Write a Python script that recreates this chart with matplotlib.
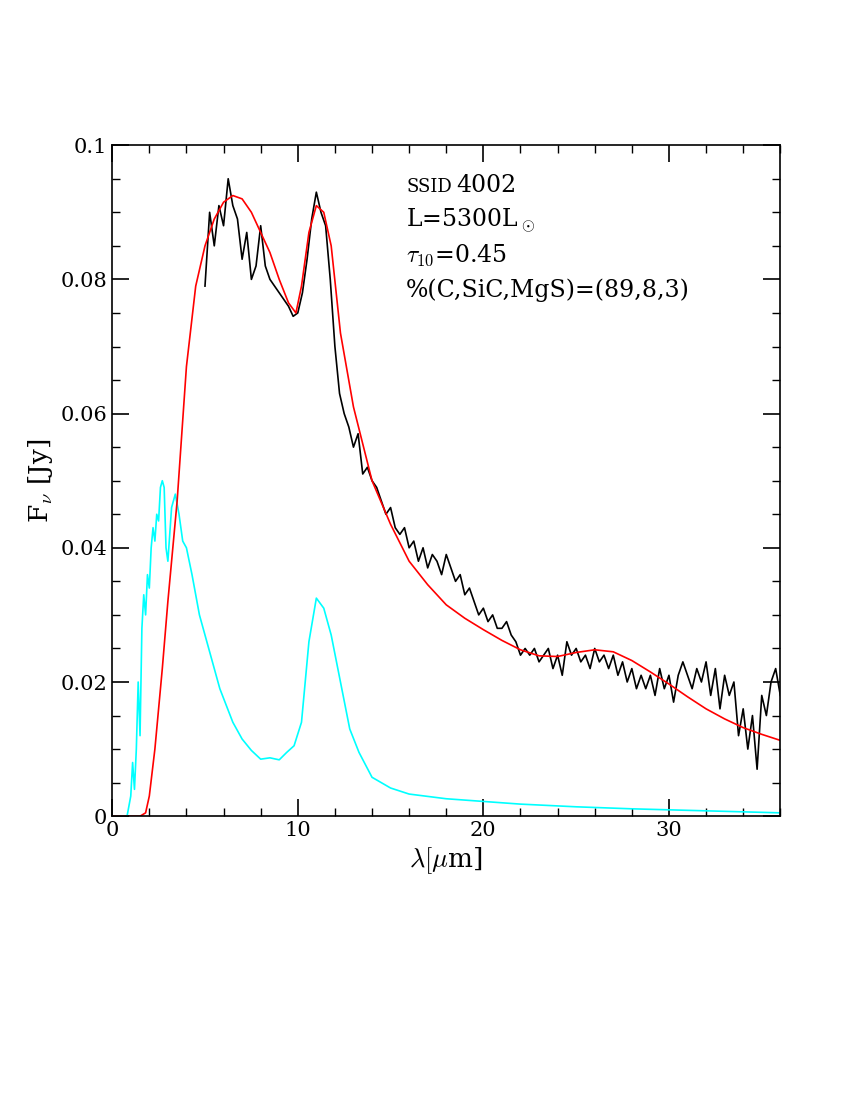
import numpy as np
import matplotlib.pyplot as plt
from matplotlib.ticker import MultipleLocator

plt.rcParams['font.family'] = 'DejaVu Serif'
plt.rcParams['mathtext.fontset'] = 'cm'

# model (red)
model_x = [0, 1.5, 1.8, 2.0, 2.3, 2.7, 3.0, 3.5, 4.0, 4.5, 5.0, 5.5, 6.0, 6.5, 7.0, 7.5, 8.0, 8.5,
           9.0, 9.5, 9.9, 10.2, 10.6, 11.0, 11.4, 11.8, 12.3, 13.0, 14.0, 15.0, 16.0, 17.0, 18.0,
           19.0, 20.0, 21.0, 22.0, 23.0, 24.0, 25.0, 26.0, 27.0, 28.0, 29.0, 30.0, 31.0, 32.0,
           33.0, 34.0, 35.0, 36.0]
model_y = [0, 0, 0.0005, 0.003, 0.010, 0.022, 0.032, 0.047, 0.067, 0.079, 0.085, 0.089, 0.0915,
           0.0925, 0.092, 0.090, 0.087, 0.084, 0.080, 0.0765, 0.075, 0.079, 0.087, 0.091, 0.090,
           0.085, 0.072, 0.061, 0.050, 0.0435, 0.038, 0.0345, 0.0315, 0.0295, 0.0278, 0.0262,
           0.0248, 0.0239, 0.0238, 0.0244, 0.0248, 0.0245, 0.0232, 0.0215, 0.0197, 0.0178, 0.016,
           0.0145, 0.0132, 0.0122, 0.0113]

# dust component (cyan)
dust_x = [0, 0.8, 1.0, 1.1, 1.2, 1.3, 1.4, 1.5, 1.6, 1.7, 1.8, 1.9, 2.0, 2.1, 2.2, 2.3, 2.4, 2.5,
          2.6, 2.7, 2.8, 2.9, 3.0, 3.2, 3.4, 3.6, 3.8, 4.0, 4.3, 4.7, 5.2, 5.8, 6.5, 7.0, 7.5,
          8.0, 8.5, 9.0, 9.4, 9.8, 10.2, 10.6, 11.0, 11.4, 11.8, 12.3, 12.8, 13.3, 14.0, 15.0,
          16.0, 18.0, 20.0, 22.0, 25.0, 28.0, 32.0, 36.0]
dust_y = [0, 0, 0.003, 0.008, 0.004, 0.010, 0.020, 0.012, 0.028, 0.033, 0.030, 0.036, 0.034,
          0.040, 0.043, 0.041, 0.045, 0.044, 0.049, 0.050, 0.049, 0.040, 0.038, 0.046, 0.048,
          0.045, 0.041, 0.040, 0.036, 0.030, 0.025, 0.019, 0.014, 0.0115, 0.0098, 0.0085,
          0.0087, 0.0084, 0.0095, 0.0105, 0.014, 0.026, 0.0325, 0.031, 0.027, 0.020, 0.013,
          0.0095, 0.0058, 0.0042, 0.0033, 0.0026, 0.0022, 0.0018, 0.0014, 0.0011, 0.0008, 0.0005]

# observed spectrum (black)
obs_x = np.arange(5.0, 36.01, 0.25)
obs_y = [0.079, 0.090, 0.085, 0.091, 0.088, 0.095, 0.091, 0.089, 0.083, 0.087, 0.080, 0.082,
         0.088, 0.082, 0.080, 0.079, 0.078, 0.077, 0.076, 0.0745, 0.075, 0.078, 0.083, 0.089,
         0.093, 0.090, 0.088, 0.080, 0.070, 0.063, 0.060, 0.058, 0.055, 0.057, 0.051, 0.052,
         0.050, 0.049, 0.047, 0.045, 0.046, 0.043, 0.042, 0.043, 0.040, 0.041, 0.038, 0.040,
         0.037, 0.039, 0.038, 0.036, 0.039, 0.037, 0.035, 0.036, 0.033, 0.034, 0.032, 0.030,
         0.031, 0.029, 0.030, 0.028, 0.028, 0.029, 0.027, 0.026, 0.024, 0.025, 0.024, 0.025,
         0.023, 0.024, 0.025, 0.022, 0.024, 0.021, 0.026, 0.024, 0.025, 0.023, 0.024, 0.022,
         0.025, 0.023, 0.024, 0.022, 0.024, 0.021, 0.023, 0.020, 0.022, 0.019, 0.021, 0.019,
         0.021, 0.018, 0.022, 0.019, 0.021, 0.017, 0.021, 0.023, 0.021, 0.019, 0.022, 0.020,
         0.023, 0.018, 0.022, 0.016, 0.021, 0.018, 0.020, 0.012, 0.016, 0.010, 0.015, 0.007,
         0.018, 0.015, 0.020, 0.022, 0.018]

fig = plt.figure(figsize=(8.5, 11), dpi=100)
ax = fig.add_axes([0.132, 0.258, 0.786, 0.610])
ax.plot(dust_x, dust_y, color='cyan', lw=1.2)
ax.plot(obs_x, obs_y, color='black', lw=1.2)
ax.plot(model_x, model_y, color='red', lw=1.2)

ax.set_xlim(0, 36)
ax.set_ylim(0, 0.1)
ax.xaxis.set_major_locator(MultipleLocator(10))
ax.xaxis.set_minor_locator(MultipleLocator(2))
ax.yaxis.set_minor_locator(MultipleLocator(0.005))
ax.set_yticks([0, 0.02, 0.04, 0.06, 0.08, 0.1])
ax.set_yticklabels(['0', '0.02', '0.04', '0.06', '0.08', '0.1'])
ax.tick_params(which='both', direction='in', top=True, right=True, labelsize=15)
ax.tick_params(which='major', length=12, width=1.2)
ax.tick_params(which='minor', length=6, width=1)
for s in ax.spines.values():
    s.set_linewidth(1.2)

ax.set_xlabel(r'$\lambda[\mu$m]', fontsize=19)
ax.set_ylabel(r'F$_\nu$ [Jy]', fontsize=19)

ax.text(0.44, 0.930, 'SSID', transform=ax.transAxes, fontsize=13, va='baseline')
ax.text(0.515, 0.930, '4002', transform=ax.transAxes, fontsize=17, va='baseline')
ax.text(0.44, 0.878, r'L=5300L$_\odot$', transform=ax.transAxes, fontsize=17, va='baseline')
ax.text(0.44, 0.826, r'$\tau_{10}$=0.45', transform=ax.transAxes, fontsize=17, va='baseline')
ax.text(0.44, 0.774, '%(C,SiC,MgS)=(89,8,3)', transform=ax.transAxes, fontsize=17, va='baseline')

fig.savefig('out.png', dpi=100)
